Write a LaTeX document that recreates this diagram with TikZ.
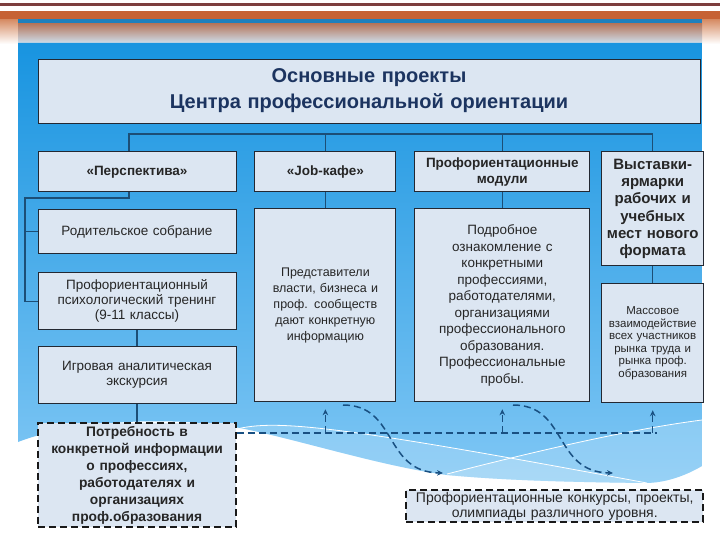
\documentclass[tikz,border=0pt]{standalone}
\usepackage{fontspec}
\setmainfont{Liberation Sans}
\usepackage{tikz}
\usetikzlibrary{arrows.meta,calc,positioning}
\definecolor{boxfill}{RGB}{220,230,242}
\definecolor{boxline}{RGB}{35,40,50}
\definecolor{linkblue}{RGB}{28,78,118}
\definecolor{dashblue}{RGB}{25,80,130}
\definecolor{titlenavy}{RGB}{28,52,96}
\definecolor{panelblue}{RGB}{24,148,224}
\definecolor{panellight}{RGB}{130,200,245}
\definecolor{panelstrip}{RGB}{32,128,188}
\definecolor{panelfadetop}{RGB}{182,120,94}
\definecolor{panelfadebot}{RGB}{205,222,236}
\definecolor{stripered}{RGB}{125,62,62}
\definecolor{stripeorange}{RGB}{198,98,52}
\definecolor{fadeorange}{RGB}{214,140,100}

\begin{document}
\begin{tikzpicture}[
    x=1pt, y=-1pt,
    font=\fontsize{13.5}{15}\selectfont,
    box/.style={draw=boxline, fill=boxfill, line width=0.9pt, align=center, inner sep=3pt, text=black!85},
    head/.style={box, font=\fontsize{13.5}{16}\selectfont\bfseries, minimum height=40pt},
    dashbox/.style={box, draw=black!90, line width=1.8pt, dash pattern=on 7pt off 4pt},
    link/.style={draw=linkblue, line width=1.3pt},
    dlink/.style={draw=dashblue, line width=1.5pt, dash pattern=on 7pt off 4pt},
    darrow/.style={-{Stealth[length=6pt, width=5.5pt]}}
]
\useasboundingbox (0,0) rectangle (720,540);

\fill[stripered] (0,3.5) rectangle (720,6.5);
\fill[stripeorange] (0,11.5) rectangle (720,19.5);
\shade[top color=fadeorange, bottom color=white] (0,19.5) rectangle (720,44);
\fill[panelstrip] (18,19.5) rectangle (702,24);
\shade[top color=panelfadetop, bottom color=panelfadebot] (18,24) rectangle (702,43);
\begin{scope}
\clip (18,43) -- (702,43) -- (702,466) .. controls (685,476) and (665,483) .. (645,483)
    .. controls (560,482) and (500,480) .. (447,475) .. controls (380,466) and (300,440) .. (240,428)
    .. controls (180,417) and (80,418) .. (18,442) -- cycle;
\shade[top color=panelblue, bottom color=panellight] (18,43) rectangle (702,490);
\fill[white, opacity=0.18] (230,431) .. controls (270,418) and (330,424) .. (647,483) -- (647,500) -- (200,500) -- cycle;
\fill[white, opacity=0.18] (447,474) .. controls (560,445) and (640,428) .. (702,420) -- (710,500) -- (447,500) -- cycle;
\draw[white, line width=0.8pt] (230,431) .. controls (270,418) and (330,424) .. (647,483);
\draw[white, line width=0.8pt] (447,474) .. controls (560,445) and (640,428) .. (702,420);
\end{scope}

\node[box, text width=656pt, minimum height=64pt, text=titlenavy, font=\fontsize{20}{26}\selectfont\bfseries] (title) at (369,91) {Основные проекты\\Центра профессиональной ориентации};
\node[head, text width=192pt, below=28pt of title.south west, anchor=north west] (persp) {«Перспектива»};
\node[head, text width=135pt, right=18pt of persp] (jobcafe) {«Job-кафе»};
\node[head, text width=169pt, right=18pt of jobcafe] (modules) {Профориентационные\\модули};
\node[head, text width=96pt, minimum height=114pt, font=\fontsize{15}{17.3}\selectfont\bfseries, right=11pt of modules.north east, anchor=north west] (fairs) {Выставки-\\ярмарки\\рабочих и\\учебных\\мест нового\\формата};

\node[box, text width=192pt, minimum height=44pt, below=17pt of persp] (parents) {Родительское собрание};
\node[box, text width=192pt, minimum height=57pt, below=18pt of parents] (training) {Профориентационный\\психологический тренинг\\(9-11 классы)};
\node[box, text width=192pt, minimum height=57pt, below=16pt of training] (excursion) {Игровая аналитическая\\экскурсия};
\node[dashbox, text width=192pt, minimum height=100pt, font=\fontsize{13.8}{17}\selectfont\bfseries, below=18pt of excursion] (need) {Потребность в\\конкретной информации\\о профессиях,\\работодателях и\\организациях\\проф.образования};

\node[box, text width=135pt, minimum height=193pt, font=\fontsize{12.5}{16}\selectfont, below=16pt of jobcafe] (jobinfo) {Представители\\власти, бизнеса и\\проф. сообществ\\дают конкретную\\информацию};
\node[box, text width=169pt, minimum height=193pt, font=\fontsize{13.5}{16.5}\selectfont, below=16pt of modules] (trials) {Подробное\\ознакомление с\\конкретными\\профессиями,\\работодателями,\\организациями\\профессионального\\образования.\\Профессиональные\\пробы.};
\node[box, text width=96pt, minimum height=119pt, font=\fontsize{11.5}{12.5}\selectfont, below=17pt of fairs] (mass) {Массовое\\взаимодействие\\всех участников\\рынка труда и\\рынка проф.\\образования};
\node[dashbox, text width=294pt, minimum height=32pt, inner sep=1.5pt, font=\fontsize{14}{15.5}\selectfont, below=86pt of mass.south east, anchor=north east] (contests) {Профориентационные конкурсы, проекты,\\олимпиады различного уровня.};

\coordinate (bus) at (0,134);
\draw[link] ([xshift=-8pt]persp.north) |- (fairs.north |- bus) -- (fairs.north);
\draw[link] (jobcafe.north |- bus) -- (jobcafe.north);
\draw[link] (modules.north |- bus) -- (modules.north);
\coordinate (spine) at (25,198);
\draw[link] ([xshift=-8pt]persp.south) |- (spine) |- (training.west);
\draw[link] (spine |- parents.west) -- (parents.west);
\draw[link] (training) -- (excursion);
\draw[link] (excursion) -- (need);
\draw[link] (jobcafe) -- (jobinfo);
\draw[link] (modules) -- (trials);
\draw[link] (fairs) -- (mass);

\coordinate (dbus) at (0,433);
\draw[dlink] (need.east |- dbus) -- ([xshift=4pt]mass.south |- dbus);
\foreach \n in {jobinfo, trials, mass}
  \draw[dlink, darrow] (\n.south |- dbus) -- ([yshift=-7pt]\n.south);
\coordinate (fromA) at (343,405);
\coordinate (toA) at (443,473);
\coordinate (fromB) at (513,405);
\coordinate (toB) at (613,473);
\draw[dlink, darrow] (fromA) .. controls (398,405) and (383,472) .. (toA);
\draw[dlink, darrow] (fromB) .. controls (568,405) and (553,472) .. (toB);
\end{tikzpicture}
\end{document}
